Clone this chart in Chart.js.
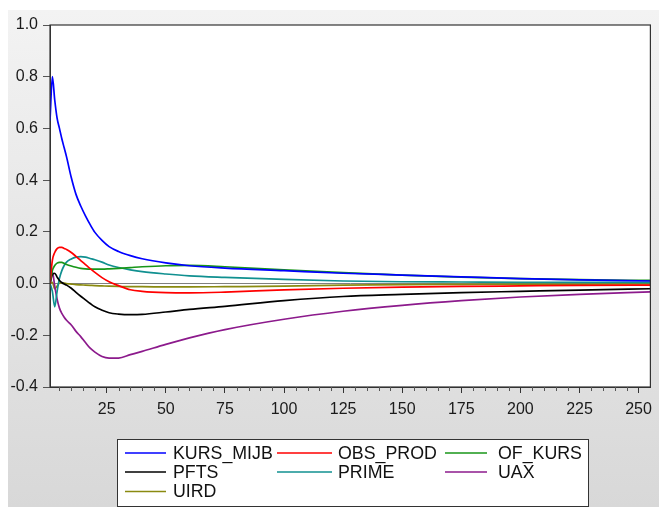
<!DOCTYPE html>
<html>
<head>
<meta charset="utf-8">
<script src="https://cdn.jsdelivr.net/npm/chart.js@4"></script>
<style>
  body { margin: 0; background: #fff; }
  canvas { display: block; }
</style>
</head>
<body>
<canvas id="irf-chart" width="659" height="507"></canvas>
<script>
// horizon (periods) where values were read
var periods = [1, 2, 3, 4, 5, 6, 7, 8, 10, 12, 14, 16, 18, 20, 23, 26, 30, 35, 40, 50, 60, 75, 100, 125, 150, 175, 200, 225, 255];

var kursMijb = [0.63, 0.80, 0.71, 0.64, 0.60, 0.56, 0.525, 0.49, 0.41, 0.345, 0.30, 0.262, 0.228, 0.198, 0.167, 0.143, 0.124, 0.108, 0.096, 0.08, 0.069, 0.06, 0.05, 0.04, 0.033, 0.026, 0.019, 0.014, 0.01];
var obsProd = [0, 0.09, 0.12, 0.135, 0.14, 0.14, 0.136, 0.132, 0.12, 0.105, 0.089, 0.073, 0.058, 0.043, 0.023, 0.007, -0.008, -0.024, -0.03, -0.035, -0.036, -0.033, -0.024, -0.018, -0.014, -0.011, -0.009, -0.007, -0.006];
var ofKurs = [0, 0.05, 0.07, 0.079, 0.082, 0.082, 0.078, 0.074, 0.068, 0.063, 0.059, 0.057, 0.056, 0.056, 0.056, 0.057, 0.059, 0.062, 0.065, 0.069, 0.07, 0.065, 0.053, 0.042, 0.033, 0.025, 0.019, 0.015, 0.012];
var pfts = [0, 0.035, 0.04, 0.025, 0.012, 0.004, -0.002, -0.006, -0.018, -0.034, -0.049, -0.063, -0.077, -0.09, -0.103, -0.113, -0.118, -0.12, -0.119, -0.11, -0.1, -0.088, -0.066, -0.05, -0.042, -0.035, -0.03, -0.025, -0.02];
var prime = [0, -0.03, -0.09, -0.03, 0.02, 0.05, 0.07, 0.083, 0.095, 0.102, 0.104, 0.102, 0.097, 0.092, 0.083, 0.072, 0.062, 0.053, 0.046, 0.037, 0.03, 0.024, 0.016, 0.01, 0.007, 0.006, 0.005, 0.005, 0.004];
var uax = [0, 0.045, -0.01, -0.06, -0.095, -0.115, -0.13, -0.142, -0.16, -0.185, -0.205, -0.228, -0.25, -0.265, -0.282, -0.288, -0.288, -0.275, -0.262, -0.235, -0.21, -0.178, -0.138, -0.107, -0.084, -0.066, -0.052, -0.042, -0.032];
var uird = [0, 0.005, -0.02, -0.01, 0.002, 0.003, 0.002, 0, -0.002, -0.004, -0.005, -0.006, -0.007, -0.008, -0.009, -0.01, -0.011, -0.012, -0.012, -0.013, -0.013, -0.012, -0.01, -0.006, -0.004, -0.003, -0.002, -0.002, -0.001];

var seriesNames = ['KURS_MIJB', 'OBS_PROD', 'OF_KURS', 'PFTS', 'PRIME', 'UAX', 'UIRD'];
var seriesValues = [kursMijb, obsProd, ofKurs, pfts, prime, uax, uird];
var seriesColors = ['#0000ff', '#ff0000', '#189618', '#000000', '#109090', '#8c1a8c', '#8a8a10'];

var labeledTicks = [25, 50, 75, 100, 125, 150, 175, 200, 225, 250];
var yTickLabels = ['-0.4', '-0.2', '0.0', '0.2', '0.4', '0.6', '0.8', '1.0'];

var FONT = "'Liberation Sans', Arial, sans-serif";

function makeDatasets() {
  return seriesNames.map(function (name, i) {
    return {
      label: name,
      data: periods.map(function (p, j) {
        return { x: p, y: seriesValues[i][j] };
      }),
      borderColor: seriesColors[i],
      borderWidth: 1.7,
      pointRadius: 0,
      fill: false,
      cubicInterpolationMode: 'monotone'
    };
  });
}

var backdrop = {
  id: 'backdrop',
  beforeDraw: function (chart) {
    var ctx = chart.ctx;
    var a = chart.chartArea;
    ctx.save();
    ctx.fillStyle = '#ffffff';
    ctx.fillRect(0, 0, chart.width, chart.height);
    var g = ctx.createLinearGradient(0, 10, 0, chart.height);
    g.addColorStop(0, '#f3f3f3');
    g.addColorStop(1, '#d8d8d8');
    ctx.fillStyle = g;
    ctx.fillRect(8, 10, chart.width - 8, chart.height - 10);
    ctx.fillStyle = '#ffffff';
    ctx.fillRect(a.left, a.top, a.right - a.left, a.bottom - a.top);
    ctx.restore();
  },
  afterDraw: function (chart) {
    var ctx = chart.ctx;
    var a = chart.chartArea;
    var xs = chart.scales.x;
    ctx.save();
    // frame round the plot
    ctx.strokeStyle = '#333';
    ctx.lineWidth = 1.2;
    ctx.strokeRect(a.left, a.top, a.right - a.left, a.bottom - a.top);

    // short minor ticks between the labelled ones
    ctx.strokeStyle = '#555';
    ctx.lineWidth = 1;
    xs.ticks.forEach(function (t) {
      if (labeledTicks.indexOf(t.value) >= 0) return;
      var px = Math.round(xs.getPixelForValue(t.value)) + 0.5;
      ctx.beginPath();
      ctx.moveTo(px, a.bottom);
      ctx.lineTo(px, a.bottom + 4);
      ctx.stroke();
    });

    // legend box, three columns
    var box = { x: 117, y: 439, w: 471, h: 67 };
    ctx.fillStyle = '#ffffff';
    ctx.fillRect(box.x, box.y, box.w, box.h);
    ctx.strokeStyle = '#333';
    ctx.lineWidth = 1;
    ctx.strokeRect(box.x + 0.5, box.y + 0.5, box.w, box.h);

    var lineX = [[125, 166], [277, 332], [445, 487]];
    var textX = [173, 338, 498];
    var rowY = [453, 472, 491.5];
    ctx.font = '17.8px ' + FONT;
    ctx.textBaseline = 'middle';
    ctx.textAlign = 'left';
    chart.data.datasets.forEach(function (ds, i) {
      var col = i % 3;
      var row = Math.floor(i / 3);
      var y = rowY[row];
      ctx.strokeStyle = ds.borderColor;
      ctx.lineWidth = 1.6;
      ctx.beginPath();
      ctx.moveTo(lineX[col][0], y);
      ctx.lineTo(lineX[col][1], y);
      ctx.stroke();
      ctx.fillStyle = '#111';
      ctx.fillText(ds.label, textX[col], y + 1);
    });
    ctx.restore();
  }
};

var chartCanvas = document.getElementById('irf-chart');
var chartContext = chartCanvas.getContext('2d');

new Chart(chartContext, {
  type: 'line',
  data: {
    datasets: makeDatasets()
  },
  options: {
    responsive: false,
    animation: false,
    layout: { padding: { top: 25, right: 4, left: 0, bottom: 0 } },
    plugins: {
      legend: { display: false },
      tooltip: { enabled: false }
    },
    scales: {
      x: {
        type: 'linear',
        min: 1,
        max: 255,
        afterFit: function (scale) { scale.height = 120; },
        afterBuildTicks: function (scale) {
          var t = [];
          for (var v = 5; v <= 250; v += 5) t.push({ value: v });
          scale.ticks = t;
        },
        grid: {
          drawOnChartArea: false,
          tickLength: 6,
          tickColor: function (ctx) {
            return labeledTicks.indexOf(ctx.tick.value) >= 0 ? '#333' : 'rgba(0,0,0,0)';
          }
        },
        border: { color: '#333', width: 1 },
        ticks: {
          autoSkip: false,
          maxRotation: 0,
          padding: 7,
          color: '#1a1a1a',
          font: { family: FONT, size: 16 },
          callback: function (value) {
            return labeledTicks.indexOf(value) >= 0 ? String(value) : '';
          }
        }
      },
      y: {
        min: -0.4,
        max: 1.0,
        afterFit: function (scale) { scale.width = 50; },
        afterBuildTicks: function (scale) {
          scale.ticks = yTickLabels.map(function (s) { return { value: parseFloat(s) }; });
        },
        grid: {
          drawOnChartArea: true,
          tickLength: 7,
          tickColor: '#555',
          color: function (ctx) {
            return ctx.tick && Math.abs(ctx.tick.value) < 1e-9 ? '#808080' : 'rgba(0,0,0,0)';
          }
        },
        border: { color: '#333', width: 1 },
        ticks: {
          padding: 5,
          color: '#1a1a1a',
          font: { family: FONT, size: 16 },
          callback: function (value, index) {
            return yTickLabels[index];
          }
        }
      }
    }
  },
  plugins: [backdrop]
});
</script>
</body>
</html>
